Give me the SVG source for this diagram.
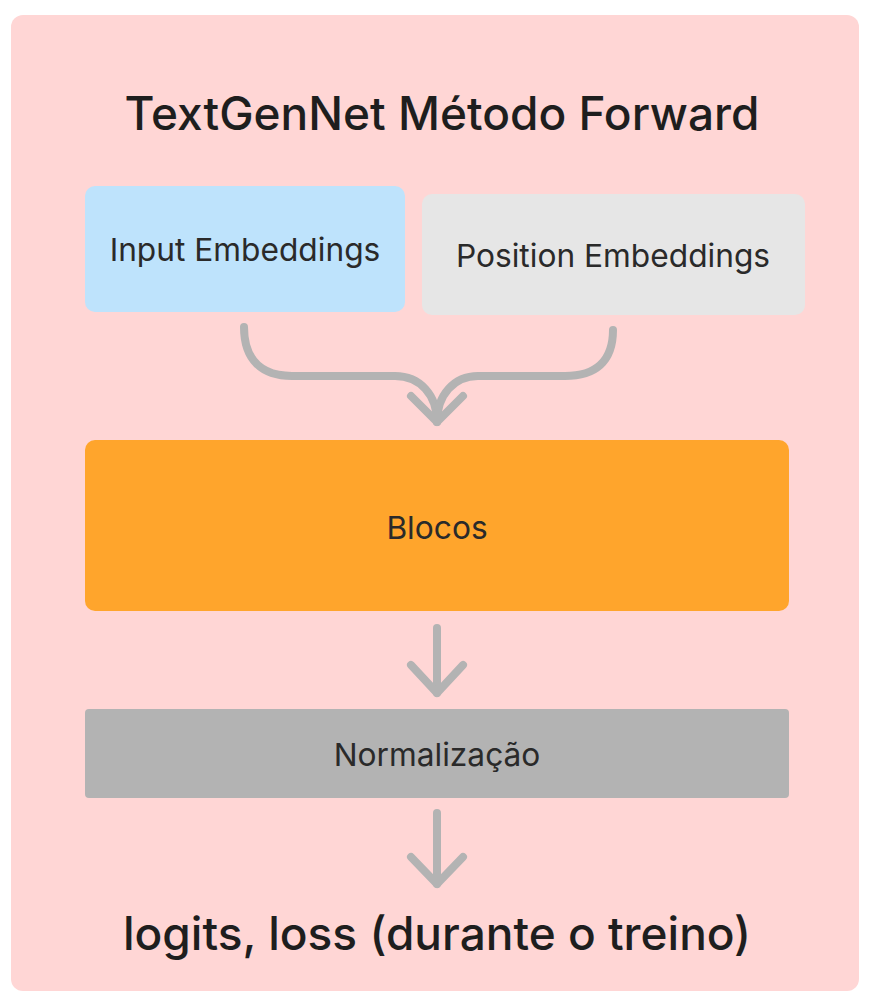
<svg xmlns="http://www.w3.org/2000/svg" width="875" height="1008" viewBox="0 0 875 1008">
<style>
text{font-family:Inter,"Noto Sans","Liberation Sans",sans-serif;fill:#1e1e1e;text-anchor:middle}
.big{font-size:46px;font-weight:500}
.lbl{font-size:31.7px;fill:#2a2a2a}
.conn{fill:none;stroke:#b3b3b3;stroke-width:8;stroke-linecap:round;stroke-linejoin:round}
</style>
<rect x="11" y="15" width="848" height="976" rx="12" fill="#ffd6d5"/>
<text class="big" x="442" y="130">TextGenNet Método Forward</text>
<g id="input-embeddings">
<rect x="85" y="186" width="320" height="126" rx="10" fill="#bee3fc"/>
<text class="lbl" x="245" y="261">Input Embeddings</text>
</g>
<g id="position-embeddings">
<rect x="422" y="194" width="383" height="121" rx="10" fill="#e6e6e6"/>
<text class="lbl" x="613" y="267">Position Embeddings</text>
</g>
<g id="blocos">
<rect x="85" y="440" width="704" height="171" rx="10" fill="#ffa52c"/>
<text class="lbl" x="437" y="539">Blocos</text>
</g>
<g id="normalizacao">
<rect x="85" y="709" width="704" height="89" rx="4" fill="#b3b3b3"/>
<text class="lbl" x="437" y="766">Normalização</text>
</g>
<g id="output">
<text class="big" x="437" y="950">logits, loss (durante o treino)</text>
</g>
<g id="connectors" class="conn">
<path d="M244 327 C244 360 262 376 292 376 L395 376 C420 376 437 395 437 422"/>
<path d="M613 330 C613 362 595 376 565 376 L478 376 C454 376 437 395 437 422"/>
<path d="M411 396 L437 422 L463 396"/>
<path d="M437 628 L437 693"/>
<path d="M411 665 L437 693 L463 665"/>
<path d="M437 813 L437 884"/>
<path d="M411 857 L437 884 L463 857"/>
</g>
</svg>
